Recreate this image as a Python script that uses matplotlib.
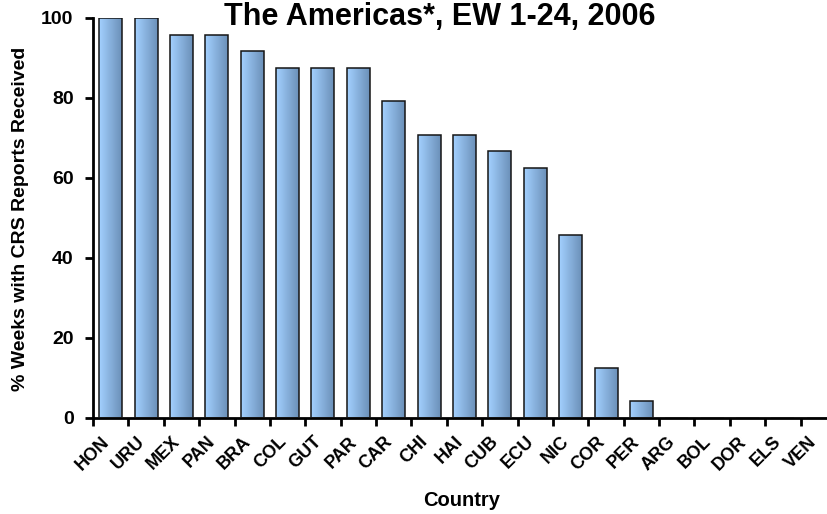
import numpy as np
import matplotlib
matplotlib.use("Agg")
import matplotlib.pyplot as plt
import matplotlib.transforms as mtransforms
from matplotlib.colors import LinearSegmentedColormap

plt.rcParams['font.family'] = ['Liberation Sans', 'DejaVu Sans']

countries = ["HON", "URU", "MEX", "PAN", "BRA", "COL", "GUT", "PAR", "CAR", "CHI",
             "HAI", "CUB", "ECU", "NIC", "COR", "PER", "ARG", "BOL", "DOR", "ELS", "VEN"]
pct_weeks = [100, 100, 95.8, 95.8, 91.7, 87.5, 87.5, 87.5, 79.2, 70.8,
             70.8, 66.7, 62.5, 45.8, 12.5, 4.2, 0, 0, 0, 0, 0]
title = "The Americas*, EW 1-24, 2006"
ylabel = "% Weeks with CRS Reports Received"
xlabel = "Country"

W, H = 827, 514
fig = plt.figure(figsize=(W / 100, H / 100), dpi=100)
ax = fig.add_axes([93 / W, 1 - 418 / H, (836 - 93) / W, 400 / H])

x = np.arange(len(countries))
bw = 0.65
bars = ax.bar(x, pct_weeks, width=bw, color='none', edgecolor='#151515', linewidth=1.1, zorder=3)
cmap = LinearSegmentedColormap.from_list('g', ['#A3D0FF', '#6B90B8'])
grad = np.linspace(0, 1, 64).reshape(1, -1)
for b, v in zip(bars, pct_weeks):
    if v <= 0:
        continue
    x0 = b.get_x()
    im = ax.imshow(grad, cmap=cmap, extent=[x0, x0 + bw, 0, v], aspect='auto', zorder=2,
                   interpolation='bilinear')
    im.set_clip_path(b)

ax.set_xlim(-0.5, len(countries) - 0.5)
ax.set_ylim(0, 100)
ax.set_xticks(np.arange(len(countries) + 1) - 0.5)
ax.set_xticklabels([])
ax.set_xticks(x, minor=True)
ax.set_xticklabels(countries, minor=True, rotation=45, ha='right', rotation_mode='anchor',
                   fontsize=13, fontweight='bold')
ax.tick_params(axis='x', which='minor', length=0, pad=11)
ax.tick_params(axis='x', which='major', length=6, width=2, direction='out')
offset = mtransforms.ScaledTranslation(-10 / 100, 0, fig.dpi_scale_trans)
for lab in ax.xaxis.get_minorticklabels():
    lab.set_transform(lab.get_transform() + offset)
ax.set_yticks([0, 20, 40, 60, 80, 100])
ax.tick_params(axis='y', length=6, width=2, direction='out', labelsize=14, pad=8)
for lab in ax.get_yticklabels():
    lab.set_fontweight('bold')
ax.spines['top'].set_visible(False)
ax.spines['right'].set_visible(False)
ax.spines['left'].set_linewidth(2)
ax.spines['bottom'].set_linewidth(2)

fig.text(21 / W, 1 - 219 / H, ylabel, rotation=90, ha='center', va='center',
         fontsize=14, fontweight='bold')
fig.text(462 / W, 1 - 506 / H, xlabel, ha='center', va='baseline', fontsize=14.5, fontweight='bold')
fig.text(440 / W, 1 - 2 / H, title, ha='center', va='top', fontsize=22, fontweight='bold')

fig.savefig('out.png', dpi=100)
